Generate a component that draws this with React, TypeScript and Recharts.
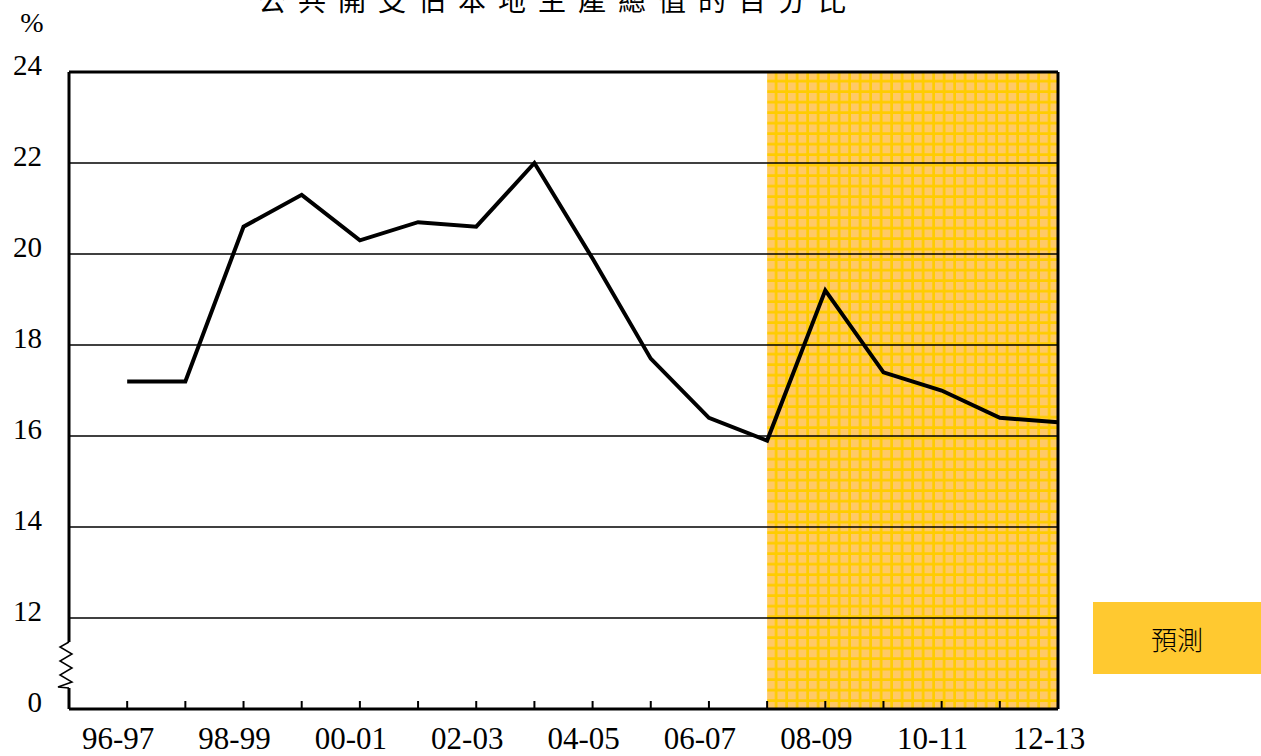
import { LineChart, Line, XAxis, YAxis, ReferenceArea, ReferenceLine } from "recharts";

const years = [
  "96-97", "97-98", "98-99", "99-00", "00-01", "01-02", "02-03", "03-04", "04-05",
  "05-06", "06-07", "07-08", "08-09", "09-10", "10-11", "11-12", "12-13",
];
const ratio = [17.2, 17.2, 20.6, 21.3, 20.3, 20.7, 20.6, 22.0, 19.9, 17.7, 16.4, 15.9, 19.2, 17.4, 17.0, 16.4, 16.3];
const yTicks = [10, 12, 14, 16, 18, 20, 22, 24];
const gridValues = [12, 14, 16, 18, 20, 22];
const forecastFrom = "07-08";
const title = "公共開支佔本地生產總值的百分比";

const SERIF = '"Liberation Serif", "Times New Roman", Times, serif';
const CJK = '"Noto Sans CJK TC", "Noto Sans CJK SC", sans-serif';

const W = 1261;
const H = 756;
const PLOT_LEFT = 69;
const PLOT_RIGHT = 1058;
const PLOT_TOP = 72;
const PLOT_BOTTOM = 709;

if (typeof document !== "undefined") {
  document.body.style.margin = "0";
}

const XTick = ({ x, y, payload }: any) => {
  const i = payload.value;
  return (
    <g>
      <line x1={x} x2={x} y1={y} y2={y - 8} stroke="#000" strokeWidth={2} />
      {i % 2 === 0 && (
        <text x={x - 9} y={y + 40} textAnchor="middle" style={{ fontSize: 31, fontFamily: SERIF }} fill="#000">
          {years[i]}
        </text>
      )}
    </g>
  );
};

const YTick = ({ x, y, payload }: any) => (
  <text x={x} y={y + 3} textAnchor="end" style={{ fontSize: 29, fontFamily: SERIF }} fill="#000">
    {payload.value === 10 ? "0" : payload.value}
  </text>
);

export default function App() {
  const data = years.map((name, i) => ({ idx: i, name, value: ratio[i] }));
  const forecastIdx = years.indexOf(forecastFrom);

  return (
    <div style={{ position: "relative", width: W, height: H, background: "#fff", overflow: "hidden" }}>
      <svg width={0} height={0} style={{ position: "absolute" }}>
        <defs>
          <pattern id="forecastGrid" x={767} y={72} width={10.5} height={10.5} patternUnits="userSpaceOnUse">
            <rect x={0} y={0} width={10.5} height={10.5} fill="#FFCC00" />
            <rect x={0} y={0} width={7.8} height={7.8} fill="#FFC966" />
          </pattern>
        </defs>
      </svg>

      <LineChart
        width={W}
        height={H}
        data={data}
        margin={{ top: PLOT_TOP, left: PLOT_LEFT - 60, right: W - PLOT_RIGHT, bottom: H - PLOT_BOTTOM - 40 }}
      >
        <ReferenceArea
          x1={forecastIdx}
          x2={years.length - 1}
          y1={10}
          y2={24}
          fill="url(#forecastGrid)"
          fillOpacity={1}
          stroke="none"
        />
        {gridValues.map((v) => (
          <ReferenceLine key={v} y={v} stroke="#000" strokeWidth={1.5} />
        ))}
        <ReferenceLine y={24} stroke="#000" strokeWidth={3} />
        <ReferenceLine x={years.length - 1} stroke="#000" strokeWidth={3} />
        <XAxis
          dataKey="idx"
          type="number"
          domain={[-1, years.length - 1]}
          ticks={years.map((_, i) => i)}
          interval={0}
          height={40}
          axisLine={{ stroke: "#000", strokeWidth: 3 }}
          tickLine={false}
          tickSize={0}
          tickMargin={0}
          tick={<XTick />}
        />
        <YAxis
          type="number"
          domain={[10, 24]}
          ticks={yTicks}
          interval={0}
          width={60}
          axisLine={{ stroke: "#000", strokeWidth: 3 }}
          tickLine={false}
          tickSize={0}
          tickMargin={27}
          tick={<YTick />}
        />
        <Line
          dataKey="value"
          stroke="#000"
          strokeWidth={4}
          dot={false}
          isAnimationActive={false}
          strokeLinejoin="miter"
        />
      </LineChart>

      <svg width={W} height={H} style={{ position: "absolute", left: 0, top: 0, pointerEvents: "none" }}>
        <rect x={60} y={642} width={16} height={46} fill="#fff" />
        <polyline
          points="69,642 60,647 72,654 60,661 72,668 60,675 72,682 58,687 69,688"
          fill="none"
          stroke="#000"
          strokeWidth={1.5}
        />
        <text x={558} y={11} textAnchor="middle" style={{ fontSize: 28, fontFamily: CJK, letterSpacing: 12 }} fill="#000">
          {title}
        </text>
        <text x={32} y={32} textAnchor="middle" style={{ fontSize: 28, fontFamily: SERIF }} fill="#000">
          %
        </text>
      </svg>

      <div
        style={{
          position: "absolute",
          left: 1093,
          top: 602,
          width: 168,
          height: 72,
          background: "#FFC930",
          display: "flex",
          alignItems: "center",
          justifyContent: "center",
          fontFamily: CJK,
          fontSize: 26,
          fontWeight: 300,
          color: "#000",
        }}
      >
        預測
      </div>
    </div>
  );
}
